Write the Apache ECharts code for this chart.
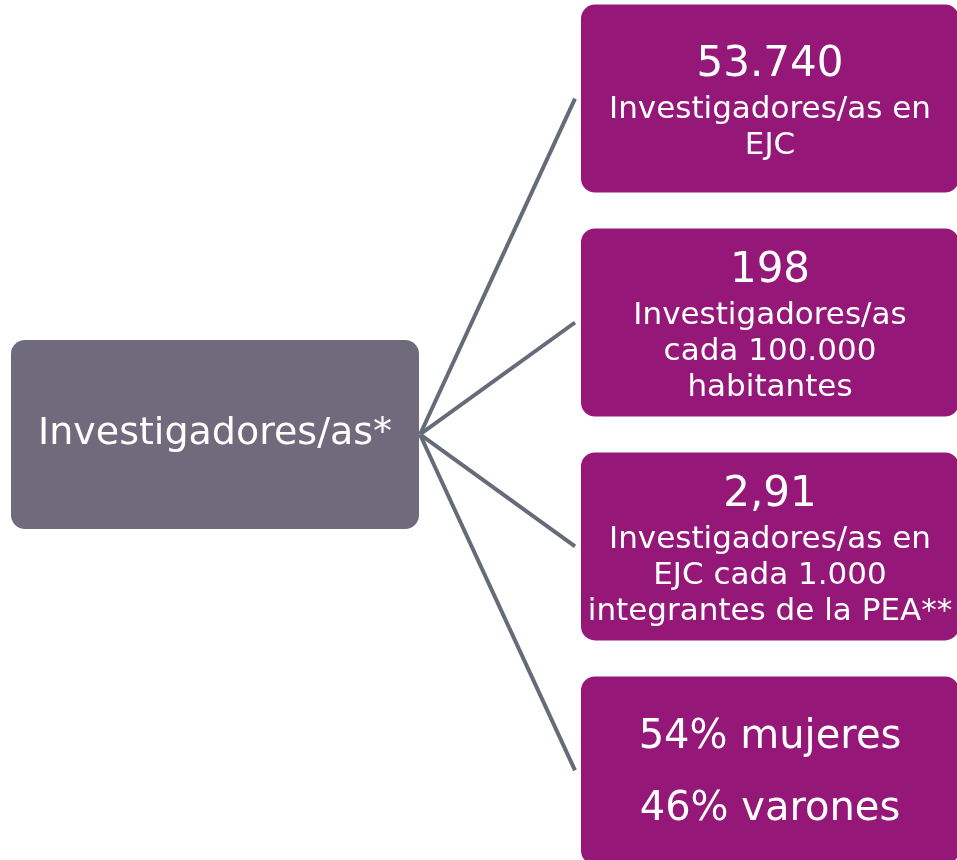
<!DOCTYPE html>
<html>
<head>
<meta charset="utf-8">
<script src="https://cdn.jsdelivr.net/npm/echarts@6/dist/echarts.min.js"></script>
<style>html,body{margin:0;padding:0;background:#fff}#c{width:957px;height:860px}</style>
</head>
<body>
<div id="c"></div>
<script>
// ---- data ----
const rootLabel = 'Investigadores/as*';
const headlines = [['53.740'], ['198'], ['2,91'], ['54% mujeres', '46% varones']];
const details = [
  ['Investigadores/as en', 'EJC'],
  ['Investigadores/as', 'cada 100.000', 'habitantes'],
  ['Investigadores/as en', 'EJC cada 1.000', 'integrantes de la PEA**'],
  []
];
const rootIndex = 1.5; // root centred among the children

// ---- styles ----
const FONT = 'DejaVu Sans';
const WEIGHT = 'normal';
const ROOT_COLOR = '#6f6a7c';
const CHILD_COLOR = '#951879';
const LINK_COLOR = '#646c77';
const ROOT_W = 408, ROOT_H = 189;
const CHILD_W = 378, CHILD_H = 188;

const childData = headlines.map((h, i) => [1, i]);

function childText(i) {
  const parts = [];
  if (details[i].length === 0) {
    headlines[i].forEach(t => parts.push('{pair|' + t + '}'));
  } else {
    headlines[i].forEach(t => parts.push('{big|' + t + '}'));
    details[i].forEach(t => parts.push('{small|' + t + '}'));
  }
  return parts.join('\n');
}

const chart = echarts.init(document.getElementById('c'), null, {renderer: 'canvas'});
chart.setOption({
  animation: false,
  grid: {left: 215, right: 187, top: 0, bottom: 0},
  xAxis: {type: 'value', min: 0, max: 1, show: false},
  yAxis: {type: 'value', min: -0.44, max: 3.4, inverse: true, show: false},
  series: [
    {
      type: 'custom',
      z: 1,
      data: childData,
      renderItem: function (params, api) {
        const root = api.coord([0, rootIndex]);
        const c = api.coord([api.value(0), api.value(1)]);
        return {
          type: 'line',
          shape: {x1: root[0] + ROOT_W / 2 + 1, y1: root[1], x2: c[0] - CHILD_W / 2 - 6, y2: c[1]},
          style: {stroke: LINK_COLOR, lineWidth: 4}
        };
      }
    },
    {
      type: 'custom',
      z: 2,
      data: [[0, rootIndex]],
      renderItem: function (params, api) {
        const c = api.coord([api.value(0), api.value(1)]);
        return {
          type: 'rect',
          shape: {x: c[0] - ROOT_W / 2, y: c[1] - ROOT_H / 2, width: ROOT_W, height: ROOT_H, r: 14},
          style: {fill: ROOT_COLOR},
          textContent: {
            style: {text: rootLabel, fill: '#ffffff', fontFamily: FONT, fontSize: 38, fontWeight: WEIGHT}
          },
          textConfig: {position: 'inside'}
        };
      }
    },
    {
      type: 'custom',
      z: 2,
      data: childData,
      renderItem: function (params, api) {
        const i = params.dataIndex;
        const c = api.coord([api.value(0), api.value(1)]);
        return {
          type: 'rect',
          shape: {x: c[0] - CHILD_W / 2, y: c[1] - CHILD_H / 2, width: CHILD_W, height: CHILD_H, r: 14},
          style: {fill: CHILD_COLOR},
          textContent: {
            style: {
              text: childText(i),
              fill: '#ffffff',
              fontFamily: FONT,
              fontWeight: WEIGHT,
              align: 'center',
              rich: {
                big: {fontFamily: FONT, fontWeight: WEIGHT, fontSize: 42, lineHeight: 52, fill: '#ffffff', align: 'center'},
                small: {fontFamily: FONT, fontWeight: WEIGHT, fontSize: 31, lineHeight: 36, fill: '#ffffff', align: 'center'},
                pair: {fontFamily: FONT, fontWeight: WEIGHT, fontSize: 40, lineHeight: 72, fill: '#ffffff', align: 'center'}
              }
            }
          },
          textConfig: {position: 'inside', offset: [0, 3]}
        };
      }
    }
  ]
});
</script>
</body>
</html>
